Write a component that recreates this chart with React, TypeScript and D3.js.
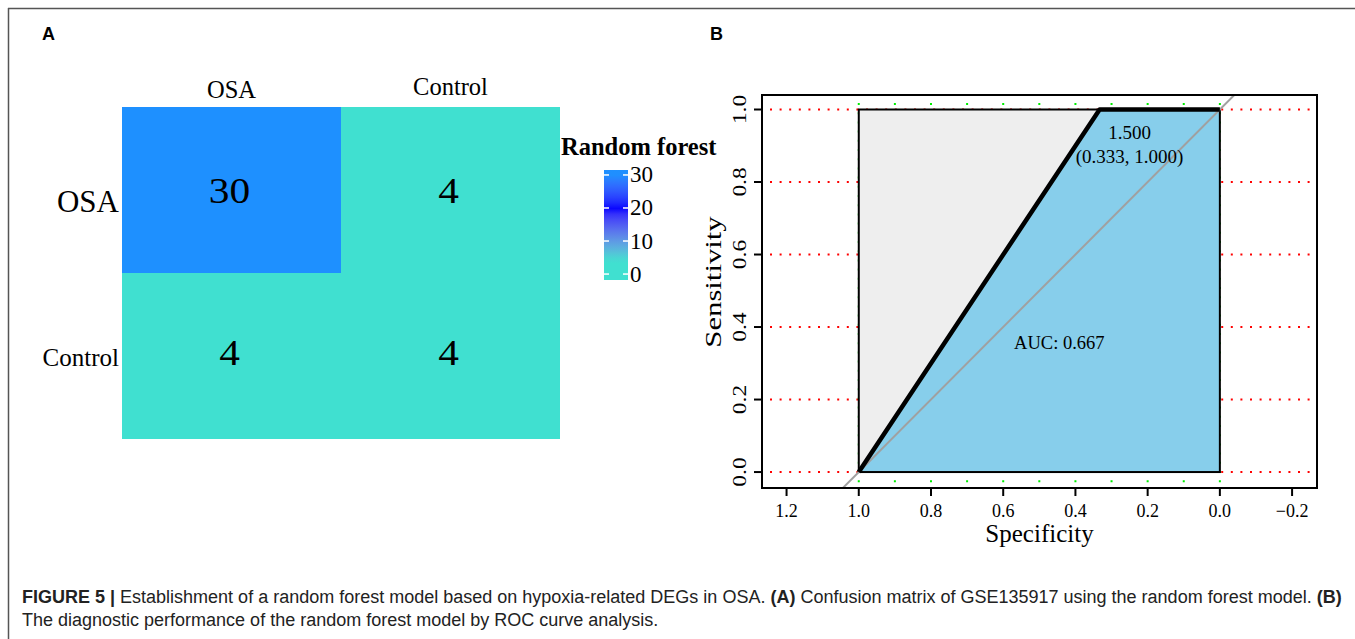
import React from "react";
import * as d3 from "d3";

// confusion matrix (rows: predicted/actual labels as in figure)
const classes = ["OSA", "Control"];
const matrixValues = [
  [30, 4],
  [4, 4],
];
const legendTicks = [0, 10, 20, 30];

// ROC curve
const rocSpecificity = [1, 0.333, 0];
const rocSensitivity = [0, 1, 1];
const xTicks = [1.2, 1.0, 0.8, 0.6, 0.4, 0.2, 0.0, -0.2];
const yTicks = [0, 0.2, 0.4, 0.6, 0.8, 1.0];
const gridX = [1.0, 0.9, 0.8, 0.7, 0.6, 0.5, 0.4, 0.3, 0.2, 0.1, 0.0];
const aucLabel = "AUC: 0.667";
const threshold = { spec: 0.333, sens: 1.0, label: "1.500", coords: "(0.333, 1.000)" };

const serif = "'Liberation Serif', 'DejaVu Serif', serif";
const sans = "'Liberation Sans', Arial, sans-serif";

const fmt = (v: number) => (v < 0 ? "\u2212" + Math.abs(v).toFixed(1) : v.toFixed(1));

const App = () => {
  const W = 1355;
  const H = 639;

  // --- panel A scales
  const hx = d3.scaleBand().domain(classes).range([122, 560]);
  const hy = d3.scaleBand().domain(classes).range([107, 439]);
  const fill = d3
    .scaleLinear<string>()
    .domain([4, 20, 30])
    .range(["#40E0D0", "#0000FF", "#1E90FF"])
    .interpolate(d3.interpolateLab)
    .clamp(true);
  const legY = d3.scaleLinear().domain([-1.8, 31.5]).range([280, 170]);
  const gradStops = d3.range(0, 21).map((i) => -1.8 + (i / 20) * 33.3);

  // --- panel B scales
  const box = { left: 762, right: 1317, top: 95, bottom: 488 };
  const x = d3.scaleLinear().domain([1.268, -0.269]).range([box.left, box.right]);
  const y = d3.scaleLinear().domain([-0.044, 1.04]).range([box.bottom, box.top]);

  const pts: [number, number][] = rocSpecificity.map((s, i) => [s, rocSensitivity[i]]);
  const line = d3
    .line<[number, number]>()
    .x((d) => x(d[0]))
    .y((d) => y(d[1]));
  const aucPoly: [number, number][] = [...pts, [0, 0], [1, 0]];

  return (
    <svg
      width={W}
      height={H}
      style={{ position: "absolute", left: 0, top: 0, background: "#fff" }}
    >
      <defs>
        <linearGradient id="leg" x1="0" y1="1" x2="0" y2="0">
          {gradStops.map((v, i) => (
            <stop key={i} offset={`${i * 5}%`} stopColor={fill(v)} />
          ))}
        </linearGradient>
        <clipPath id="plotClip">
          <rect x={box.left} y={box.top} width={box.right - box.left} height={box.bottom - box.top} />
        </clipPath>
      </defs>

      {/* figure frame */}
      <line x1={8} x2={W} y1={8.5} y2={8.5} stroke="#555" strokeWidth={1.5} />
      <line x1={8.5} x2={8.5} y1={8} y2={H} stroke="#555" strokeWidth={1.5} />

      <text x={42} y={40} fontFamily={sans} fontWeight="bold" fontSize={18}>A</text>
      <text x={710} y={40} fontFamily={sans} fontWeight="bold" fontSize={18}>B</text>

      {/* ---------- panel A: confusion matrix ---------- */}
      {matrixValues.map((row, ri) =>
        row.map((v, ci) => (
          <rect
            key={`c${ri}-${ci}`}
            x={hx(classes[ci])}
            y={hy(classes[ri])}
            width={hx.bandwidth()}
            height={hy.bandwidth()}
            fill={fill(v)}
          />
        ))
      )}
      {matrixValues.map((row, ri) =>
        row.map((v, ci) => (
          <text
            key={`t${ri}-${ci}`}
            transform={`translate(${hx(classes[ci])! + hx.bandwidth() / 2 - 2},${
              hy(classes[ri])! + hy.bandwidth() / 2 + (ri === 1 ? -4 : 0)
            }) scale(1.15,1)`}
            textAnchor="middle"
            dominantBaseline="central"
            fontFamily={serif}
            fontSize={36}
          >
            {v}
          </text>
        ))
      )}
      {classes.map((c, i) => (
        <text
          key={"col" + c}
          x={hx(c)! + hx.bandwidth() / 2}
          y={i === 0 ? 98 : 95}
          textAnchor="middle"
          fontFamily={serif}
          fontSize={24.5}
        >
          {c}
        </text>
      ))}
      {classes.map((c, i) => (
        <text
          key={"row" + c}
          x={119}
          y={hy(c)! + hy.bandwidth() / 2 + (i === 0 ? 22 : 10)}
          textAnchor="end"
          fontFamily={serif}
          fontSize={i === 0 ? 31 : 25}
        >
          {c}
        </text>
      ))}

      {/* legend */}
      <text x={561} y={155} fontFamily={serif} fontWeight="bold" fontSize={24.5}>Random forest</text>
      <rect x={604} y={legY(31.5)} width={24} height={legY(-1.8) - legY(31.5)} fill="url(#leg)" />
      {legendTicks.map((t) => (
        <g key={"lt" + t}>
          <line x1={604} x2={609} y1={legY(t)} y2={legY(t)} stroke="#fff" strokeWidth={1.5} />
          <line x1={623} x2={628} y1={legY(t)} y2={legY(t)} stroke="#fff" strokeWidth={1.5} />
          <text x={630} y={legY(t)} dominantBaseline="central" fontFamily={serif} fontSize={23}>
            {t}
          </text>
        </g>
      ))}

      {/* ---------- panel B: ROC ---------- */}
      <g clipPath="url(#plotClip)">
        {yTicks.map((t) => (
          <line
            key={"gy" + t}
            x1={box.left + 8}
            x2={box.right}
            y1={y(t)}
            y2={y(t)}
            stroke="#FF0000"
            strokeWidth={2}
            strokeDasharray="2,7.6"
          />
        ))}
        {gridX.map((t) => (
          <line
            key={"gx" + t}
            x1={x(t)}
            x2={x(t)}
            y1={box.top + 8}
            y2={box.bottom}
            stroke="#00EE00"
            strokeWidth={2}
            strokeDasharray="2,7.2"
          />
        ))}
        <rect
          x={x(1)}
          y={y(1)}
          width={x(0) - x(1)}
          height={y(0) - y(1)}
          fill="#EEEEEE"
        />
        <path d={line(aucPoly)!} fill="#87CEEB" stroke="none" />
        <rect
          x={x(1)}
          y={y(1)}
          width={x(0) - x(1)}
          height={y(0) - y(1)}
          fill="none"
          stroke="#000"
          strokeWidth={2}
        />
        <line
          x1={x(1.1)}
          y1={y(-0.1)}
          x2={x(-0.1)}
          y2={y(1.1)}
          stroke="#A0A0A0"
          strokeWidth={2}
        />
        <path d={line(pts)!} fill="none" stroke="#000" strokeWidth={4.5} strokeLinejoin="round" />
      </g>
      <rect
        x={box.left}
        y={box.top}
        width={box.right - box.left}
        height={box.bottom - box.top}
        fill="none"
        stroke="#000"
        strokeWidth={2}
      />
      <text x={x(threshold.spec) + 30} y={y(threshold.sens) + 29} textAnchor="middle" fontFamily={serif} fontSize={19}>
        {threshold.label}
      </text>
      <text x={x(threshold.spec) + 30} y={y(threshold.sens) + 53} textAnchor="middle" fontFamily={serif} fontSize={19}>
        {threshold.coords}
      </text>
      <text x={x(0.5) + 20} y={y(0.4) + 22} textAnchor="middle" fontFamily={serif} fontSize={18.5}>
        {aucLabel}
      </text>

      {/* axes */}
      {xTicks.map((t) => (
        <g key={"xt" + t}>
          <line x1={x(t)} x2={x(t)} y1={box.bottom} y2={box.bottom + 8} stroke="#000" strokeWidth={2} />
          <text x={x(t)} y={box.bottom + 29} textAnchor="middle" fontFamily={serif} fontSize={18}>
            {fmt(t)}
          </text>
        </g>
      ))}
      {yTicks.map((t) => (
        <g key={"yt" + t}>
          <line x1={box.left - 8} x2={box.left} y1={y(t)} y2={y(t)} stroke="#000" strokeWidth={2} />
          <text
            transform={`translate(${box.left - 16},${y(t)}) rotate(-90) scale(1.3,1)`}
            textAnchor="middle"
            fontFamily={serif}
            fontSize={18}
          >
            {fmt(t)}
          </text>
        </g>
      ))}
      <text x={(box.left + box.right) / 2 + 0} y={542} textAnchor="middle" fontFamily={serif} fontSize={25}>
        Specificity
      </text>
      <text
        transform={`translate(721,282) rotate(-90) scale(1.28,1)`}
        textAnchor="middle"
        fontFamily={serif}
        fontSize={24}
      >
        Sensitivity
      </text>

      {/* caption */}
      <text x={22} y={603} fontFamily={sans} fontSize={18} fill="#222">
        <tspan fontWeight="bold">FIGURE 5 | </tspan>
        Establishment of a random forest model based on hypoxia-related DEGs in OSA.{" "}
        <tspan fontWeight="bold">(A)</tspan> Confusion matrix of GSE135917 using the random forest model.{" "}
        <tspan fontWeight="bold">(B)</tspan>
      </text>
      <text x={22} y={626} fontFamily={sans} fontSize={18} fill="#222">
        The diagnostic performance of the random forest model by ROC curve analysis.
      </text>
    </svg>
  );
};

export default App;
